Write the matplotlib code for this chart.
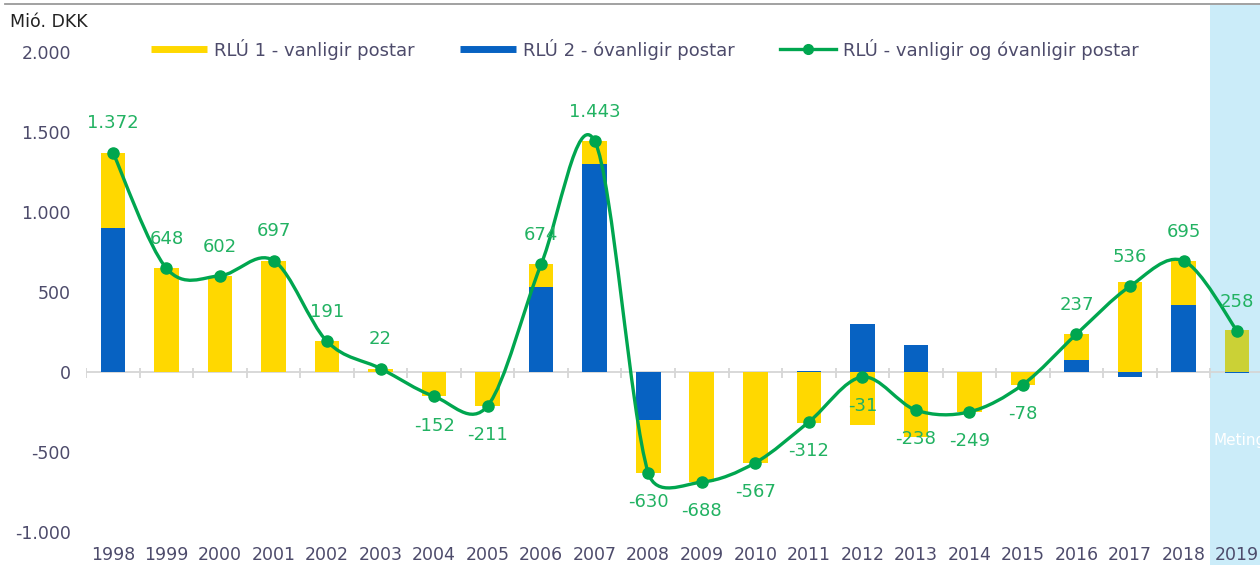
import matplotlib
matplotlib.use("Agg")
import matplotlib.pyplot as plt
import numpy as np
from matplotlib.lines import Line2D
from matplotlib.path import Path
from matplotlib.patches import PathPatch

years = [str(y) for y in range(1998, 2020)]
rlu1 = [472, 648, 602, 697, 191, 22, -152, -211, 143, 143, -330, -688, -567,
        -317, -333, -408, -252, -80, 161, 565, 276, 261]
rlu2 = [900, 0, 0, 0, 0, 0, 0, 0, 531, 1300, -300, 0, 0,
        5, 302, 170, 3, 2, 76, -29, 419, -3]
total = [1372, 648, 602, 697, 191, 22, -152, -211, 674, 1443, -630, -688, -567,
         -312, -31, -238, -249, -78, 237, 536, 695, 258]

YELLOW = "#ffd800"
BLUE = "#0762c2"
GREEN = "#00a64f"
LABEL_GREEN = "#22b262"
TEXT = "#4d4b6b"
BAND = "#cbecf9"

W, H = 1260, 565
LEFT, RIGHT, TOP = 86.2, 1263.8, 5
YMIN, YMAX = -1206, 2294


def fmt(v):
    return f"{v:,}".replace(",", ".")


def smooth_path(xs, ys, sx, sy, clamp=0.5):
    # excel-like smoothing: catmull-rom control points, but a control arm is
    # never longer than `clamp` times its segment (measured on screen)
    pts = np.column_stack([xs, ys]).astype(float)
    scale = np.array([sx, sy])
    n = len(pts)
    verts = [pts[0]]
    codes = [Path.MOVETO]

    def arm(i, j):
        # control arm at point i pointing towards neighbour j
        tan = (pts[min(i + 1, n - 1)] - pts[max(i - 1, 0)]) / 6.0
        if j < i:
            tan = -tan
        arm_len = np.hypot(*(tan * scale))
        seg_len = np.hypot(*((pts[j] - pts[i]) * scale))
        if arm_len > clamp * seg_len:
            tan = tan * clamp * seg_len / arm_len
        return pts[i] + tan

    for i in range(n - 1):
        verts += [arm(i, i + 1), arm(i + 1, i), pts[i + 1]]
        codes += [Path.CURVE4] * 3
    return Path(verts, codes)


fig = plt.figure(figsize=(W / 100, H / 100), dpi=100)
ax = fig.add_axes([LEFT / W, 0, (RIGHT - LEFT) / W, 1 - TOP / H])
x = np.arange(len(years))

ax.axvspan(20.5, 21.5, color=BAND, zorder=0, lw=0)
ax.text(20.56, -431, "Meting", color="white", fontsize=11, va="center", ha="left", zorder=1)

ax.axhline(0, color="#d6d6d6", lw=1.3, zorder=1)
ax.vlines(np.arange(-0.5, 21.5, 1.0), -40, 28, color="#d6d6d6", lw=1.3, zorder=1)

w = 0.46
yellow_cols = [YELLOW] * (len(years) - 1) + ["#cbd136"]
ybottom = [b if (a >= 0) == (b >= 0) else 0 for a, b in zip(rlu1, rlu2)]
ax.bar(x, rlu2, w, color=BLUE, zorder=2)
ax.bar(x, rlu1, w, bottom=ybottom, color=yellow_cols, zorder=2)

sx = (RIGHT - LEFT) / 22.0
sy = (H - TOP) / (YMAX - YMIN)
ax.add_patch(PathPatch(smooth_path(x, total, sx, sy), fill=False, edgecolor=GREEN, lw=2.4,
                       zorder=3, capstyle="round", joinstyle="round"))
ax.plot(x, total, "o", color=GREEN, ms=8, zorder=4)

for xi, v in zip(x, total):
    off = 21 if v >= 0 else -21
    ax.annotate(fmt(v), (xi, v), xytext=(0, off), textcoords="offset points",
                ha="center", va="center", fontsize=13, color=LABEL_GREEN, zorder=5)

ax.set_xlim(-0.5, 21.5)
ax.set_ylim(YMIN, YMAX)
ax.set_yticks(range(-1000, 2001, 500))
ax.set_yticklabels([fmt(v) for v in range(-1000, 2001, 500)])
ax.set_xticks(x)
ax.set_xticklabels(years)
ax.tick_params(axis="y", length=0, pad=11, labelsize=12.5, labelcolor=TEXT)
ax.tick_params(axis="x", length=0, pad=-14, labelsize=12.5, labelcolor=TEXT)
for s in ax.spines.values():
    s.set_visible(False)

fig.add_artist(Line2D([5 / W, 1], [1 - 4 / H] * 2, color="#9a9a9a", lw=1.3))
fig.text(10 / W, 1 - 22 / H, "Mió. DKK", fontsize=12.5, color="#222222", va="center")

handles = [
    Line2D([], [], color=YELLOW, lw=5, solid_capstyle="butt"),
    Line2D([], [], color=BLUE, lw=5, solid_capstyle="butt"),
    Line2D([], [], color=GREEN, lw=2.4, marker="o", ms=7),
]
labels = ["RLÚ 1 - vanligir postar", "RLÚ 2 - óvanligir postar",
          "RLÚ - vanligir og óvanligir postar"]
leg = fig.legend(handles, labels, loc="center left", bbox_to_anchor=(151 / W, 1 - 49 / H),
                 ncol=3, frameon=False, fontsize=13, handlelength=3.1, handletextpad=0.4,
                 columnspacing=2.5, borderpad=0, borderaxespad=0)
for t in leg.get_texts():
    t.set_color(TEXT)

fig.savefig("out.png", dpi=100)
